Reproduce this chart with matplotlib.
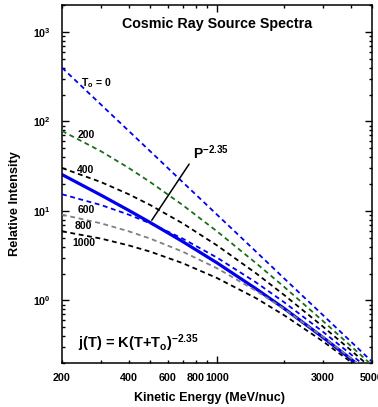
import matplotlib
matplotlib.use("Agg")
import matplotlib.pyplot as plt
from matplotlib.ticker import FixedLocator, FixedFormatter

plt.rcParams['font.family'] = ['Liberation Sans', 'DejaVu Sans']
plt.rcParams['font.weight'] = 'bold'
plt.rcParams['mathtext.fontset'] = 'custom'
plt.rcParams['mathtext.rm'] = 'Liberation Sans:bold'
plt.rcParams['mathtext.bf'] = 'Liberation Sans:bold'
plt.rcParams['mathtext.it'] = 'Liberation Sans:bold'

# kinetic energy grid (MeV/nuc) and intensities
energy = [200, 300, 400, 500, 700, 1000, 1500, 2000, 3000, 4000, 5000]
j_t0_0 = [399, 154, 78.3, 46.4, 21.0, 9.09, 3.51, 1.78, 0.688, 0.350, 0.207]
j_t0_200 = [78.3, 46.4, 30.2, 21.0, 11.64, 5.92, 2.61, 1.43, 0.591, 0.312, 0.189]
j_t0_400 = [30.2, 21.0, 15.36, 11.64, 7.27, 4.12, 2.01, 1.16, 0.512, 0.280, 0.173]
j_t0_600 = [15.36, 11.64, 9.09, 7.27, 4.91, 3.01, 1.59, 0.962, 0.448, 0.252, 0.159]
j_t0_800 = [9.09, 7.27, 5.92, 4.91, 3.51, 2.29, 1.28, 0.809, 0.394, 0.228, 0.146]
j_t0_1000 = [5.92, 4.91, 4.12, 3.51, 2.61, 1.78, 1.06, 0.688, 0.350, 0.207, 0.135]
j_momentum = [25.5, 15.0, 10.15, 7.42, 4.55, 2.63, 1.35, 0.820, 0.388, 0.223, 0.142]

curve_labels = ['T$_\\mathbf{o}$ = 0', '200', '400', '600', '800', '1000']
curve_colors = ['#0000ee', '#1a6e1a', 'black', '#0000ee', '#808080', 'black']
label_pos = [(0.061, 0.782), (0.052, 0.637), (0.048, 0.539),
             (0.052, 0.427), (0.042, 0.384), (0.035, 0.335)]

x_tick_vals = [200, 300, 400, 500, 600, 700, 800, 900, 2000, 3000, 4000, 5000]
x_tick_text = ['200', '', '400', '', '600', '', '800', '', '', '3000', '', '5000']

fig = plt.figure(figsize=(3.78, 4.07), dpi=100)
ax = fig.add_axes([62/378, 44/407, 310/378, 358/407])

ax.plot(energy, j_momentum, color='#0000ee', lw=2.3, zorder=2)
series = [j_t0_0, j_t0_200, j_t0_400, j_t0_600, j_t0_800, j_t0_1000]
for vals, col, lab, pos in zip(series, curve_colors, curve_labels, label_pos):
    ax.plot(energy, vals, color=col, lw=1.3, ls=(0, (2.7, 2.0)), zorder=3)
    ax.text(pos[0], pos[1], lab, transform=ax.transAxes, fontsize=7.5,
            fontweight='bold', va='center', ha='left')

ax.set_xscale('log')
ax.set_yscale('log')
ax.set_xlim(200, 5000)
ax.set_ylim(0.2, 2000)

ax.xaxis.set_major_locator(FixedLocator([1000]))
ax.xaxis.set_major_formatter(FixedFormatter(['1000']))
ax.xaxis.set_minor_locator(FixedLocator(x_tick_vals))
ax.xaxis.set_minor_formatter(FixedFormatter(x_tick_text))

ax.set_yticks([1, 10, 100, 1000])
ax.set_yticklabels(['10$^\\mathbf{0}$', '10$^\\mathbf{1}$',
                    '10$^\\mathbf{2}$', '10$^\\mathbf{3}$'])

ax.tick_params(which='both', direction='in', top=True, right=True, width=1)
ax.tick_params(which='major', length=5)
ax.tick_params(which='minor', length=2.5)
ax.tick_params(axis='x', which='both', labelsize=7.7, pad=7)
ax.tick_params(axis='y', which='both', labelsize=7.7, pad=8)
for s in ax.spines.values():
    s.set_linewidth(1.1)

ax.text(0.502, 0.947, 'Cosmic Ray Source Spectra', transform=ax.transAxes,
        fontsize=10.3, fontweight='bold', ha='center', va='center')

ax.annotate('', xy=(500, 7.42), xytext=(0.415, 0.562),
            textcoords='axes fraction',
            arrowprops=dict(arrowstyle='-', color='black', lw=1.1))
ax.text(0.423, 0.570, 'P$^\\mathbf{-2.35}$', transform=ax.transAxes,
        fontsize=10, ha='left', va='baseline')

ax.text(0.052, 0.042, 'j(T) = K(T+T$_\\mathbf{o}$)$^\\mathbf{-2.35}$',
        transform=ax.transAxes, fontsize=10.5, ha='left', va='baseline')

fig.text(209.5/378, 1 - 398/407, 'Kinetic Energy (MeV/nuc)', fontsize=9,
         fontweight='bold', ha='center', va='center')
fig.text(15/378, 1 - 203.5/407, 'Relative Intensity', fontsize=9.2,
         fontweight='bold', ha='center', va='center', rotation=90)

fig.savefig('out.png', dpi=100)
